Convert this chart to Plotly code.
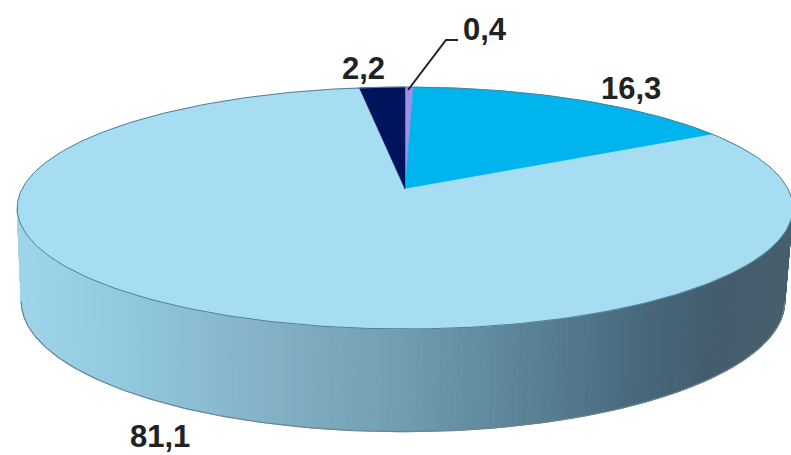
import numpy as np
import plotly.graph_objects as go

# Data
categories = ["A", "B", "C", "D"]
values = [0.4, 16.3, 81.1, 2.2]
labels = ["0,4", "16,3", "81,1", "2,2"]
colors = ["#A48FE6", "#00B4EE", "#A6DDF3", "#00145E"]
label_pos = [(485, 29), (631, 88), (160, 436), (363, 68)]
leader_x = [408, 446, 458]
leader_y = [90, 40, 40]

# Side gradient stops (x pixel -> colour)
grad_x = [15, 120, 250, 400, 520, 640, 720, 790]
grad_rgb = [(160, 214, 235), (146, 202, 224), (134, 180, 202), (113, 158, 178),
            (92, 132, 152), (72, 104, 124), (68, 92, 108), (72, 96, 110)]

# Perspective disc geometry
K = 0.157


def rim(theta, x0, y0, A, B):
    u, v = np.sin(theta), np.cos(theta)
    d = 1 + K * v
    return x0 + A * u / d, y0 - B * v / d


TOP = (405, 189, 383, 118)
BOT = (403, 281, 377, 127)

fig = go.Figure()

# Side wall (front half of the disc, between the silhouette points)
edges = np.radians(np.linspace(99, 261, 221))
for a, b in zip(edges[:-1], edges[1:]):
    t = np.array([a, b])
    xt, yt = rim(t, *TOP)
    xb, yb = rim(t, *BOT)
    xm = (xt.mean() + xb.mean()) / 2
    c = [int(np.interp(xm, grad_x, [g[i] for g in grad_rgb])) for i in range(3)]
    col = f"rgb({c[0]},{c[1]},{c[2]})"
    px = [xt[0], xt[1], xb[1], xb[0], xt[0]]
    py = [yt[0], yt[1], yb[1], yb[0], yt[0]]
    fig.add_trace(go.Scatter(x=[float(v) for v in px], y=[float(v) for v in py],
                             mode="lines", fill="toself", fillcolor=col,
                             line=dict(color=col, width=1), hoverinfo="skip",
                             showlegend=False))

# Bottom outline
t = np.radians(np.linspace(99, 261, 240))
xb, yb = rim(t, *BOT)
fig.add_trace(go.Scatter(x=xb.tolist(), y=yb.tolist(), mode="lines", line=dict(color="#6d8490", width=1.2),
                         hoverinfo="skip", showlegend=False))

# Top slices
start = 0.0
for cat, val, col in zip(categories, values, colors):
    th = np.radians(np.linspace(start, start + val * 3.6, max(3, int(val * 6))))
    xr, yr = rim(th, *TOP)
    fig.add_trace(go.Scatter(x=np.r_[TOP[0], xr, TOP[0]].tolist(), y=np.r_[TOP[1], yr, TOP[1]].tolist(),
                             mode="lines", fill="toself", fillcolor=col,
                             line=dict(color=col, width=0.5), name=cat,
                             hoverinfo="name", showlegend=False))
    start += val * 3.6

# Rim outline
t = np.radians(np.linspace(0, 360, 361))
xr, yr = rim(t, *TOP)
fig.add_trace(go.Scatter(x=xr.tolist(), y=yr.tolist(), mode="lines", line=dict(color="#4f7f95", width=1),
                         hoverinfo="skip", showlegend=False))

# Leader line
fig.add_trace(go.Scatter(x=leader_x, y=leader_y, mode="lines",
                         line=dict(color="#222222", width=2), hoverinfo="skip", showlegend=False))

for txt, (lx, ly) in zip(labels, label_pos):
    fig.add_annotation(x=lx, y=ly, text=f"<b>{txt}</b>", showarrow=False,
                       font=dict(family="Liberation Sans", size=31, color="#222222"))

fig.update_layout(width=791, height=455, margin=dict(l=0, r=0, t=0, b=0),
                  paper_bgcolor="white", plot_bgcolor="white", showlegend=False,
                  xaxis=dict(range=[0, 791], visible=False, fixedrange=True),
                  yaxis=dict(range=[455, 0], visible=False, fixedrange=True))
fig.write_html("out.html", config={"displayModeBar": False},
               post_script="document.body.style.margin='0';document.body.style.overflow='hidden';")
